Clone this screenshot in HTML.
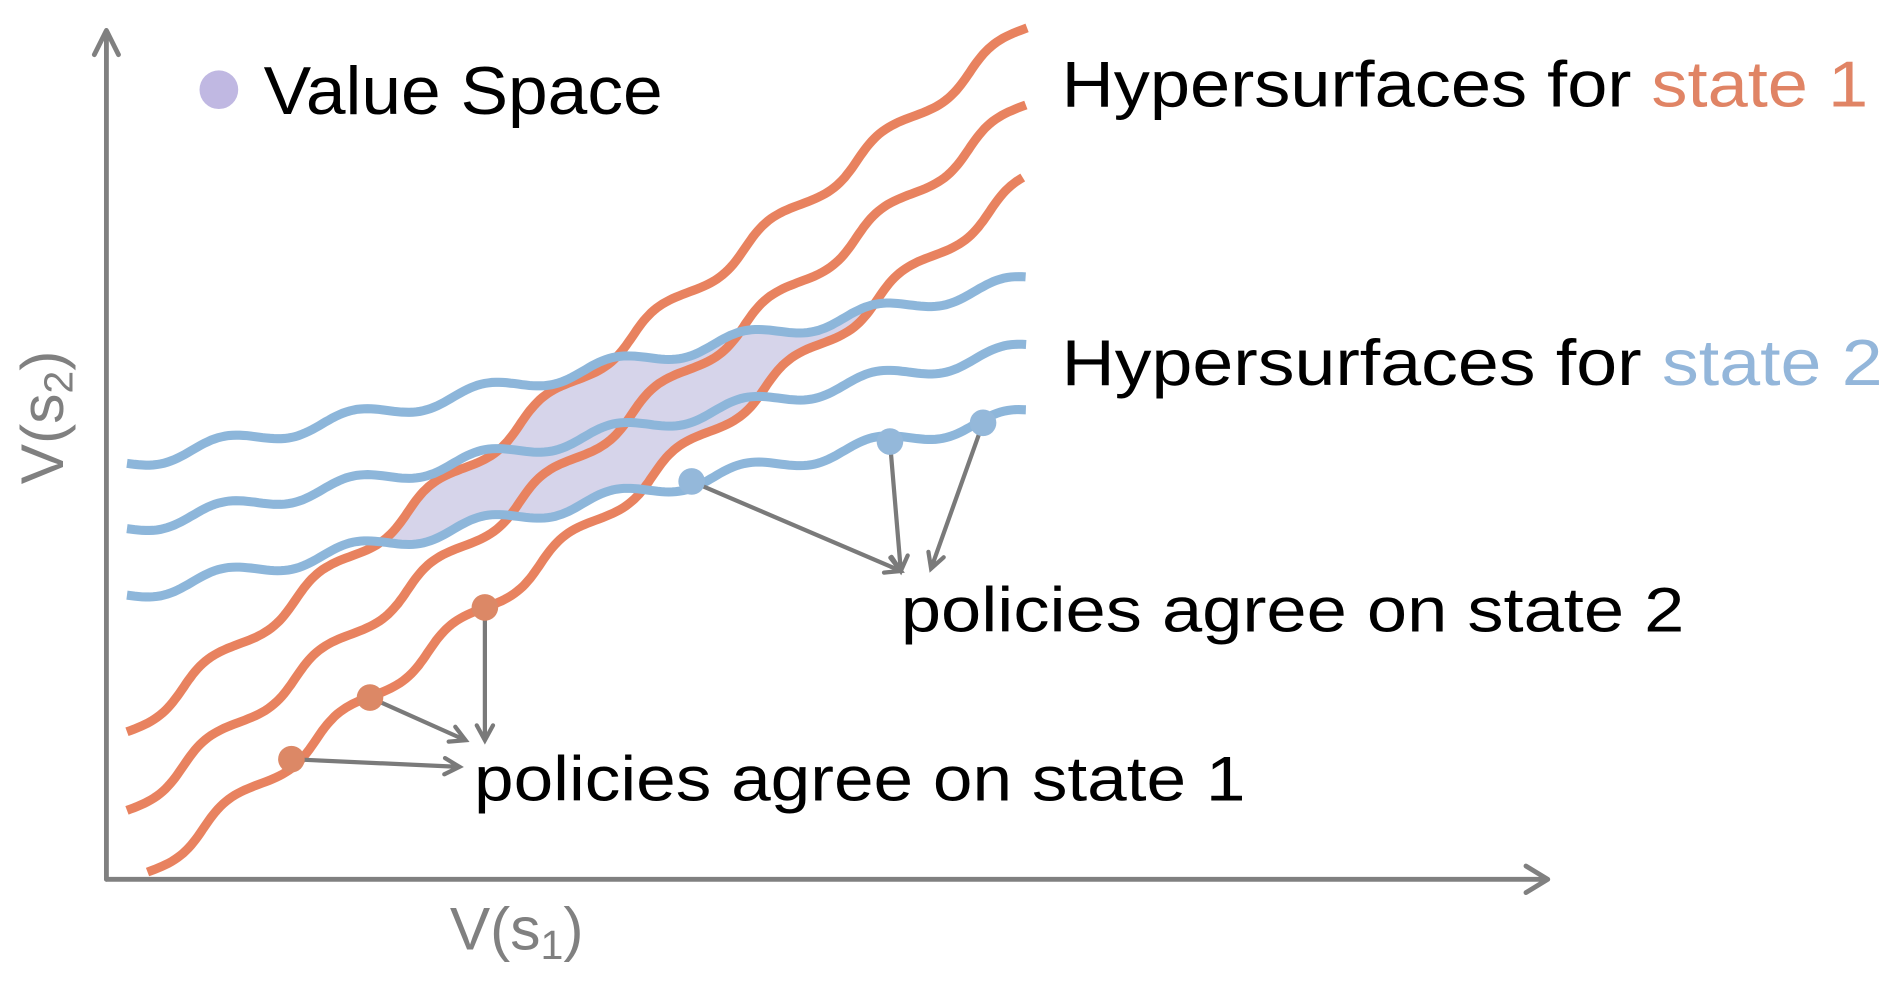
<!DOCTYPE html>
<html><head><meta charset="utf-8"><style>
html,body{margin:0;padding:0;background:#fff;}
svg{display:block;}
text{font-family:"Liberation Sans","DejaVu Sans",sans-serif;}
</style></head><body>
<svg id="chart" width="1896" height="992" viewBox="0 0 1568 820" xmlns="http://www.w3.org/2000/svg">
<defs><clipPath id="orangeBand"><path id="bandPath" d=""/></clipPath></defs>
<g id="region"></g>
<g id="lines"></g>
<g id="arrows"></g>
<g id="dots"></g>
<g stroke="#808080" stroke-width="4" fill="none" stroke-linecap="round" stroke-linejoin="round">
<path d="M88,727 L88,25 M78,45 L88,25 L98,45"/>
<path d="M88,727 L1280,727 M1262,716 L1280,727 L1262,738"/>
</g>
<text transform="translate(52,345) rotate(-90)" text-anchor="middle" font-size="50" fill="#808080">V(s<tspan font-size="34" dy="8">2</tspan><tspan dy="-8">)</tspan></text>
<text x="372" y="785" font-size="50" fill="#808080">V(s<tspan font-size="34" dy="8">1</tspan><tspan dy="-8">)</tspan></text>
<circle cx="181" cy="74" r="16" fill="#c0b8e2"/>
<text x="218" y="94" font-size="56" textLength="330" lengthAdjust="spacingAndGlyphs" fill="#000">Value Space</text>
<text x="878" y="88" font-size="54" textLength="667" lengthAdjust="spacingAndGlyphs" fill="#000">Hypersurfaces for <tspan fill="#e08465">state 1</tspan></text>
<text x="878" y="318" font-size="54" textLength="679" lengthAdjust="spacingAndGlyphs" fill="#000">Hypersurfaces for <tspan fill="#93b6da">state 2</tspan></text>
<text x="745" y="522" font-size="52" textLength="648" lengthAdjust="spacingAndGlyphs" fill="#000">policies agree on state 2</text>
<text x="392" y="662" font-size="52" textLength="638" lengthAdjust="spacingAndGlyphs" fill="#000">policies agree on state 1</text>
</svg>
<script>
// orange (state 1) hypersurfaces: start x, y at start, end x, y at end
const orangeX0 = [105, 105, 122];
const orangeY0 = [605, 670, 721];
const orangeX1 = [850, 850, 850];
const orangeY1 = [22, 85, 150];
// blue (state 2) hypersurfaces
const blueX0 = [105, 105, 105];
const blueY0 = [383, 437, 492];
const blueX1 = [850, 850, 850];
const blueY1 = [232, 288, 342];
// policy points (x positions) on the lowest line of each family
const orangeDotX = [241, 306, 401];
const blueDotX = [572, 736, 813];
const NS = 'http://www.w3.org/2000/svg';

function wavePts(x0, y0, x1, y1, period, amp) {
  const dx = x1 - x0, dy = y1 - y0, L = Math.hypot(dx, dy);
  const ux = dx / L, uy = dy / L, nx = -uy, ny = ux;
  const pts = [];
  for (let s = 0; s <= L; s += 3) {
    const o = amp * Math.sin(2 * Math.PI * s / period);
    pts.push([x0 + ux * s + nx * o, y0 + uy * s + ny * o]);
  }
  return pts;
}
function ptsToD(p) { return p.map((q, i) => (i ? 'L' : 'M') + q[0].toFixed(1) + ',' + q[1].toFixed(1)).join(''); }
function lineY(x0, y0, x1, y1, x) { return y0 + (y1 - y0) * (x - x0) / (x1 - x0); }

const linesG = document.getElementById('lines');
const oW = [], bW = [];
for (let i = 0; i < orangeX0.length; i++) oW.push(wavePts(orangeX0[i], orangeY0[i], orangeX1[i], orangeY1[i], 118, 6));
for (let i = 0; i < blueX0.length; i++) bW.push(wavePts(blueX0[i], blueY0[i], blueX1[i], blueY1[i], 110, 6));

const band = oW[0].concat(oW[oW.length - 1].slice().reverse());
document.getElementById('bandPath').setAttribute('d', ptsToD(band) + 'Z');
const reg = document.createElementNS(NS, 'path');


reg.setAttribute('d', ptsToD(bW[0].concat(bW[bW.length - 1].slice().reverse())) + 'Z');
reg.setAttribute('fill', '#d6d4ea');
reg.setAttribute('clip-path', 'url(#orangeBand)');
document.getElementById('region').appendChild(reg);

oW.forEach((p, i) => {
  const el = document.createElementNS(NS, 'path');
  
  
  el.setAttribute('d', ptsToD(p));
  el.setAttribute('fill', 'none'); el.setAttribute('stroke', '#e8825f'); el.setAttribute('stroke-width', '7.5');
  linesG.appendChild(el);
});
bW.forEach((p, i) => {
  const el = document.createElementNS(NS, 'path');
  
  
  el.setAttribute('d', ptsToD(p));
  el.setAttribute('fill', 'none'); el.setAttribute('stroke', '#8db6da'); el.setAttribute('stroke-width', '7.5');
  linesG.appendChild(el);
});

const dotsG = document.getElementById('dots'), arrG = document.getElementById('arrows');
function arrow(x0, y0, x1, y1) {
  const a = Math.atan2(y1 - y0, x1 - x0), h = 14;
  const d = `M${x0},${y0}L${x1},${y1}M${x1 - h * Math.cos(a - 0.5)},${y1 - h * Math.sin(a - 0.5)}L${x1},${y1}L${x1 - h * Math.cos(a + 0.5)},${y1 - h * Math.sin(a + 0.5)}`;
  const el = document.createElementNS(NS, 'path');
  
  
  el.setAttribute('d', d);
  el.setAttribute('fill', 'none'); el.setAttribute('stroke', '#7a7a7a'); el.setAttribute('stroke-width', '3.5'); el.setAttribute('stroke-linecap', 'round');
  arrG.appendChild(el);
}
const oi = orangeX0.length - 1, bi = blueX0.length - 1;
const oTargets = [[380, 634], [385, 612], [401, 612]];
orangeDotX.forEach((x, i) => {
  const y = lineY(orangeX0[oi], orangeY0[oi], orangeX1[oi], orangeY1[oi], x);
  arrow(x, y, oTargets[i][0], oTargets[i][1]);
  const c = document.createElementNS(NS, 'circle');
  
  
  c.setAttribute('cx', x); c.setAttribute('cy', y); c.setAttribute('r', 11); c.setAttribute('fill', '#dc8866');
  dotsG.appendChild(c);
});
const bTargets = [[745, 472], [745, 472], [770, 470]];
blueDotX.forEach((x, i) => {
  const y = lineY(blueX0[bi], blueY0[bi], blueX1[bi], blueY1[bi], x);
  arrow(x, y, bTargets[i][0], bTargets[i][1]);
  const c = document.createElementNS(NS, 'circle');
  
  
  c.setAttribute('cx', x); c.setAttribute('cy', y); c.setAttribute('r', 11); c.setAttribute('fill', '#94b8da');
  dotsG.appendChild(c);
});
</script>
</body></html>
